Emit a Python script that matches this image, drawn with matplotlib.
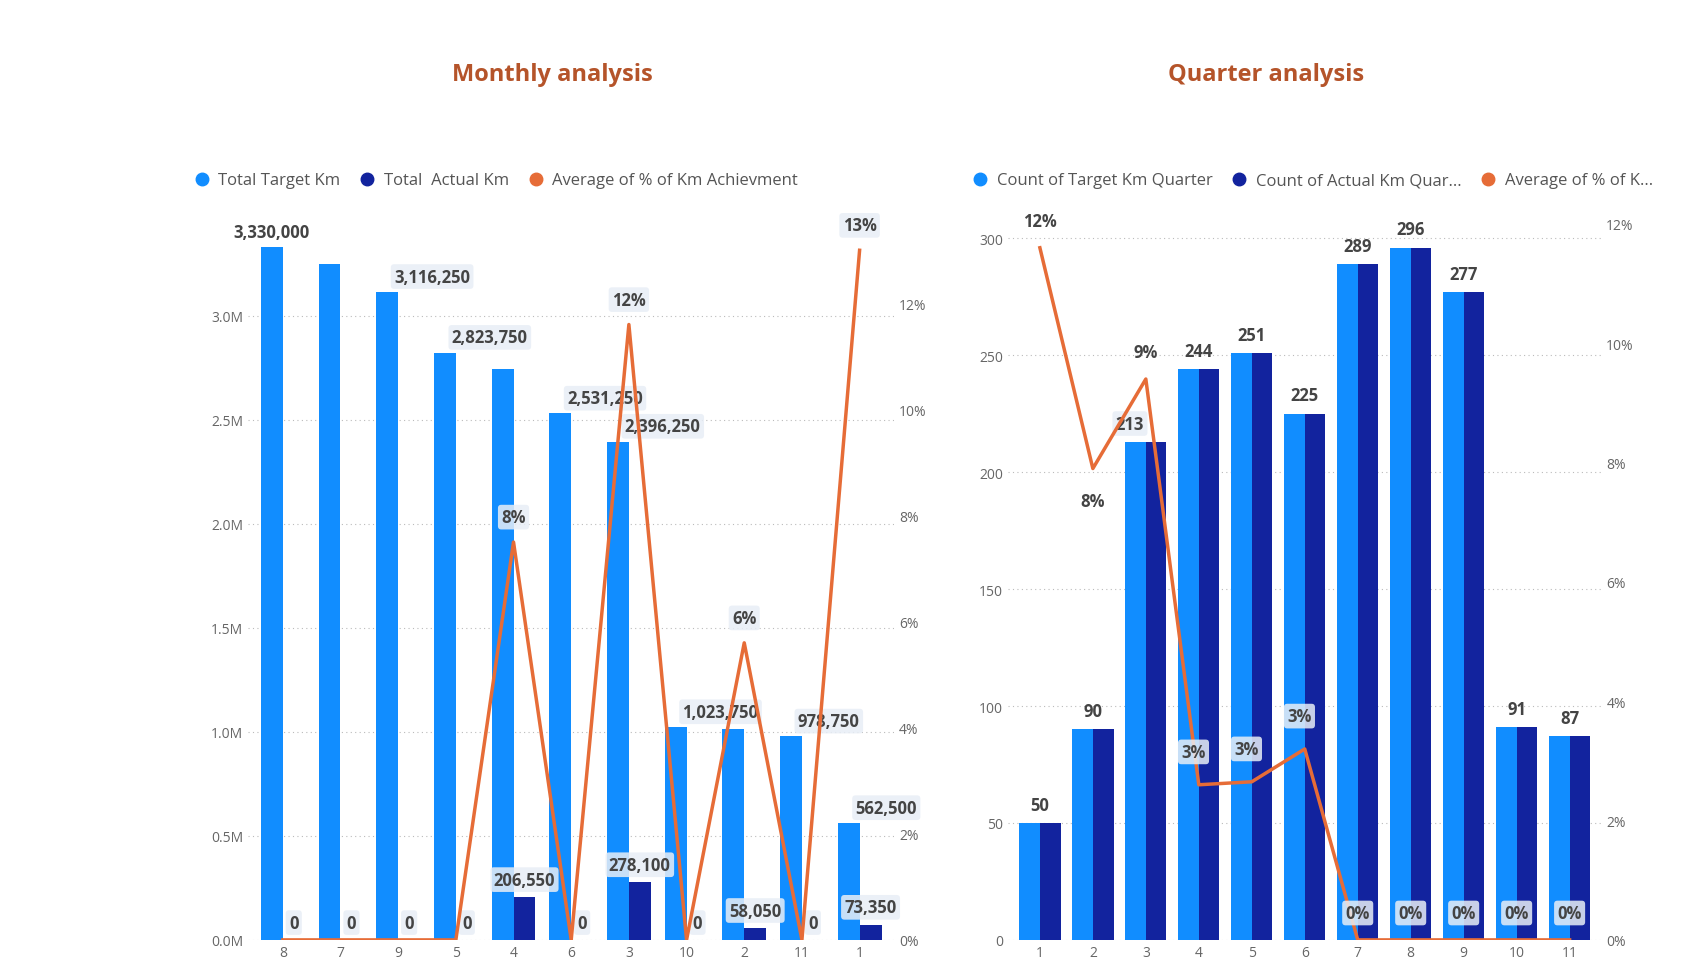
import matplotlib
matplotlib.use("Agg")
import matplotlib.pyplot as plt
import numpy as np
from matplotlib.ticker import FuncFormatter

plt.rcParams['font.family'] = ['Open Sans', 'DejaVu Sans']

months = ['8', '7', '9', '5', '4', '6', '3', '10', '2', '11', '1']
m_target = [3330000, 3250000, 3116250, 2823750, 2745000, 2531250, 2396250, 1023750, 1012500, 978750, 562500]
m_actual = [0, 0, 0, 0, 206550, 0, 278100, 0, 58050, 0, 73350]
m_pct = [0, 0, 0, 0, 7.5, 0, 11.6, 0, 5.6, 0, 13.0]
m_target_labeled = [True, False, True, True, False, True, True, True, False, True, True]

quarters = ['1', '2', '3', '4', '5', '6', '7', '8', '9', '10', '11']
q_target = [50, 90, 213, 244, 251, 225, 289, 296, 277, 91, 87]
q_actual = [50, 90, 213, 244, 251, 225, 289, 296, 277, 91, 87]
q_pct = [11.6, 7.9, 9.4, 2.6, 2.65, 3.2, 0, 0, 0, 0, 0]

C_T = '#118DFF'; C_A = '#12239E'; C_L = '#E66C37'
TITLE_C = '#B5542A'; TICK_C = '#666666'; LBL_C = '#444444'
box = dict(boxstyle='round,pad=0.2', fc='#E8EEF6', ec='none', alpha=0.85)

fig = plt.figure(figsize=(17, 9.7), dpi=100)

def style(ax, ax2):
    for a in (ax, ax2):
        for s in a.spines.values():
            s.set_visible(False)
        a.tick_params(length=0, colors=TICK_C, labelsize=10)
    ax.yaxis.grid(True, ls=(0, (1, 3)), color='#BBBBBB', lw=0.8)
    ax.set_axisbelow(True)
    ax.set_zorder(ax2.get_zorder() - 1)
    ax.patch.set_visible(True)
    ax2.patch.set_visible(False)

# Monthly
ax = fig.add_axes([0.146, 0.030, 0.38, 0.729])
ax2 = ax.twinx()
x = np.arange(len(months))
w = 0.38
ax.bar(x - w/2, m_target, w, color=C_T)
ax.bar(x + w/2, m_actual, w, color=C_A)
ax.set_ylim(0, 3400000)
ax.set_yticks(np.arange(0, 3.01e6, 0.5e6))
ax.yaxis.set_major_formatter(FuncFormatter(lambda v, p: f'{v/1e6:.1f}M'))
ax.set_xticks(x, months)
ax.set_xlim(-0.6, len(months) - 0.4)
ax2.plot(x, m_pct, color=C_L, lw=2.5)
ax2.set_ylim(0, 13.33)
ax2.set_yticks(range(0, 13, 2))
ax2.yaxis.set_major_formatter(FuncFormatter(lambda v, p: f'{v:.0f}%'))
style(ax, ax2)
for i, v in enumerate(m_target):
    if not m_target_labeled[i]:
        continue
    ax.text(x[i] - w/2 + (0.12 if i else 0), v + 30000, f'{v:,}', fontsize=12, fontweight='bold', color=LBL_C,
            ha='left' if i else 'center', va='bottom', bbox=box if i else None)
for i, v in enumerate(m_actual):
    ax.text(x[i] + w/2, max(v, 0) + 40000, f'{v:,}', fontsize=12, fontweight='bold', color=LBL_C,
            ha='center', va='bottom', bbox=box)
for i, v in enumerate(m_pct):
    if v > 0:
        ax2.text(x[i], v + 0.3, f'{v:.0f}%', fontsize=12, fontweight='bold', color=LBL_C,
                 ha='center', va='bottom', bbox=box)
fig.text(0.325, 0.917, 'Monthly analysis', fontsize=17, fontweight='bold', color=TITLE_C, ha='center')
hs = [plt.Line2D([], [], marker='o', ls='', color=c, markersize=9) for c in (C_T, C_A, C_L)]
fig.legend(hs, ['Total Target Km', 'Total  Actual Km', 'Average of % of Km Achievment'],
           loc='center left', bbox_to_anchor=(0.1, 0.813), ncol=3, frameon=False,
           fontsize=12, labelcolor='#555555', handletextpad=0.0, columnspacing=0.6)

# Quarter
bx = fig.add_axes([0.593, 0.030, 0.349, 0.740])
bx2 = bx.twinx()
q = np.arange(len(quarters))
w = 0.39
bx.bar(q - w/2, q_target, w, color=C_T)
bx.bar(q + w/2, q_actual, w, color=C_A)
bx.set_ylim(0, 307)
bx.set_yticks(range(0, 301, 50))
bx.set_xticks(q, quarters)
bx.set_xlim(-0.6, len(quarters) - 0.4)
bx2.plot(q, q_pct, color=C_L, lw=2.5)
bx2.set_ylim(0, 12.03)
bx2.set_yticks(range(0, 13, 2))
bx2.yaxis.set_major_formatter(FuncFormatter(lambda v, p: f'{v:.0f}%'))
style(bx, bx2)
for i, v in enumerate(q_target):
    bx.text(q[i] - (0.3 if i == 2 else 0), v + 4, f'{v}', fontsize=12, fontweight='bold', color=LBL_C,
            ha='center', va='bottom', bbox=box if i == 2 else None)
for i, v in enumerate(q_pct):
    if v > 5:
        yoff, va, b = (0.3, 'bottom', None) if i != 1 else (-0.4, 'top', None)
    elif v > 0:
        yoff, va, b = (0.4, 'bottom', box)
    else:
        yoff, va, b = (0.3, 'bottom', box)
    bx2.text(q[i] - (0.1 if 0 < v < 5 else 0), v + yoff, f'{v:.0f}%', fontsize=12, fontweight='bold',
             color=LBL_C, ha='center', va=va, bbox=b)
fig.text(0.745, 0.917, 'Quarter analysis', fontsize=17, fontweight='bold', color=TITLE_C, ha='center')
fig.legend(hs, ['Count of Target Km Quarter', 'Count of Actual Km Quar...', 'Average of % of K...'],
           loc='center left', bbox_to_anchor=(0.558, 0.813), ncol=3, frameon=False,
           fontsize=12, labelcolor='#555555', handletextpad=0.0, columnspacing=0.6)

fig.savefig('out.png', dpi=100, facecolor='white')
